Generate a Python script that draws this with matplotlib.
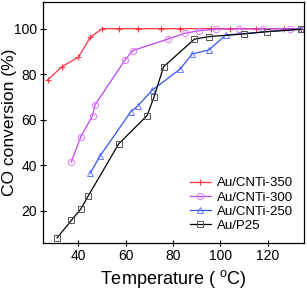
import numpy as np
import matplotlib
matplotlib.use('Agg')
import matplotlib.pyplot as plt

plt.rcParams['font.family'] = ['Liberation Sans', 'DejaVu Sans']
plt.rcParams['mathtext.fontset'] = 'custom'
plt.rcParams['mathtext.rm'] = 'Liberation Sans'
plt.rcParams['mathtext.it'] = 'Liberation Sans'

# data
t350 = [27, 33, 40, 45, 50, 57, 65, 75, 83, 96, 104, 115, 127, 134]
c350 = [77.5, 83.3, 87.5, 96.2, 100, 100, 100, 100, 100, 100, 100, 100, 100, 100]

t300 = [37, 41, 46, 47, 59.7, 63, 78, 85, 91, 98, 108, 118, 129.5, 134]
c300 = [41.5, 52.6, 61.8, 66.5, 86.3, 90.4, 95.5, 98, 99.1, 99.8, 99.9, 99.9, 100, 100]

t250 = [45, 49.2, 62.1, 65.1, 71.2, 83, 88.1, 95.2, 102.2, 134]
c250 = [36.6, 44.2, 63.5, 66.1, 73, 82.3, 88.9, 90.7, 97.2, 99.9]

tp25 = [31, 37, 41, 44, 57, 69, 72, 76, 89, 95, 110, 119.7, 134]
cp25 = [8.1, 15.8, 20.8, 26.3, 49.4, 61.8, 70.2, 83.3, 95.4, 96.5, 97.7, 98.7, 99.7]

labels = ['Au/CNTi-350', 'Au/CNTi-300', 'Au/CNTi-250', 'Au/P25']

fig = plt.figure(figsize=(3.07, 2.92), dpi=100)
ax = fig.add_axes([0.140, 0.169, 0.850, 0.824])

ax.plot(t350, c350, '-', color='#ff3344', marker='+', ms=5, mew=0.8, lw=0.9, label=labels[0])
ax.plot(t300, c300, '-', color='#bb44ee', marker='o', ms=4.5, mfc='none', mec='#dd77ff', mew=0.7, lw=0.9, label=labels[1])
ax.plot(t250, c250, '-', color='#3355ee', marker='^', ms=4.5, mfc='none', mec='#6677ff', mew=0.7, lw=0.9, label=labels[2])
ax.plot(tp25, cp25, '-', color='black', marker='s', ms=4.5, mfc='none', mec='#555555', mew=0.7, lw=0.9, label=labels[3])

ax.set_xlim(25, 135.3)
ax.set_ylim(6, 111.7)
ax.set_xticks([40, 60, 80, 100, 120])
ax.set_yticks([20, 40, 60, 80, 100])
ax.tick_params(direction='inout', length=5, width=0.8, labelsize=10, pad=2)
for s in ax.spines.values():
    s.set_linewidth(0.9)

ax.set_xlabel('Temperature ( $\\mathregular{^{o}}$C)', fontsize=13, labelpad=4)
ax.set_ylabel('CO conversion (%)', fontsize=12.5)
ax.yaxis.set_label_coords(-0.098, 0.5)

ax.legend(loc='lower right', frameon=False, fontsize=9.5, handlelength=1.6,
          handletextpad=0.5, labelspacing=0.15, borderaxespad=0.4)

fig.savefig('out.png', dpi=100)
